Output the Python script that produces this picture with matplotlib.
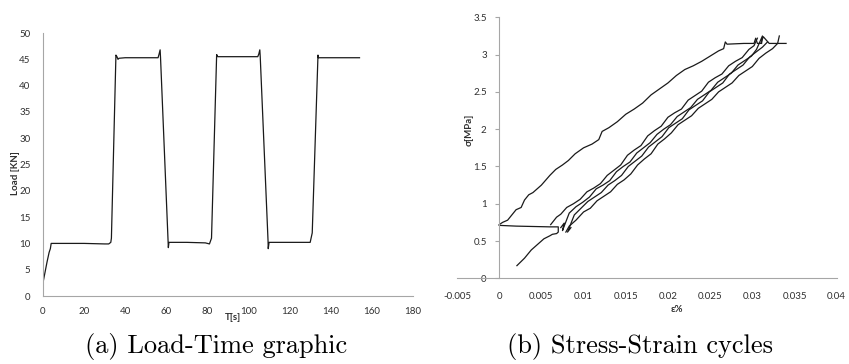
import matplotlib.pyplot as plt
from matplotlib.ticker import FixedLocator, FixedFormatter

# load-time record
time_s = [0, 1, 2, 3, 3.6, 4, 10, 20, 30, 32, 33, 33.3, 35.5, 36, 36.5, 37, 40, 50,
          56, 56.5, 57, 57.2, 61, 61.3, 62, 70, 79, 81, 82, 84.5, 85, 86, 95, 104.5,
          105, 105.5, 105.7, 109.5, 109.6, 110, 120, 130, 131, 133.8, 134, 135, 145, 154]
load_kn = [2.5, 4.5, 6.5, 8.3, 9, 10, 10, 10, 9.9, 9.9, 10.2, 11, 45.8, 45.5, 45, 45.2, 45.3, 45.3,
           45.3, 46, 46.8, 45.3, 9.2, 10.2, 10.2, 10.2, 10.1, 9.9, 11, 45.9, 45.5, 45.5, 45.5, 45.5,
           46, 46.8, 45.5, 10.5, 9, 10.2, 10.2, 10.2, 12, 45.8, 45.3, 45.3, 45.3, 45.3]

# stress-strain branches (strain in units of 1e-3)
first_load_e = [2.1, 3.0, 3.8, 4.5, 5.3, 6.0, 6.3, 6.8, 7.0, 7.0, 6.0, 4.0, 2.0, 0.0]
first_load_s = [0.17, 0.27, 0.38, 0.45, 0.53, 0.57, 0.59, 0.6, 0.62, 0.69, 0.69, 0.695, 0.7, 0.71]

upper_e = [0.0, 0.4, 1.0, 1.5, 2.0, 2.6, 3.0, 3.5, 4.0, 5.0, 6.0, 6.7, 7.5, 8.2, 9.0, 10.0, 11.0,
           11.8, 12.2, 13.0, 14.0, 15.0, 16.0, 17.0, 18.0, 19.0, 20.0, 21.0, 22.0, 23.0, 24.0,
           25.0, 26.0, 26.6, 26.8, 27.0, 29.0, 30.2, 30.4, 30.6, 31.0, 31.3, 32.0, 33.0, 34.0]
upper_s = [0.72, 0.75, 0.78, 0.85, 0.92, 0.95, 1.05, 1.12, 1.15, 1.25, 1.38, 1.46, 1.52, 1.58, 1.67,
           1.75, 1.8, 1.86, 1.97, 2.02, 2.1, 2.2, 2.27, 2.35, 2.46, 2.54, 2.62, 2.72, 2.8, 2.85, 2.91,
           2.98, 3.05, 3.08, 3.17, 3.14, 3.15, 3.15, 3.22, 3.15, 3.15, 3.24, 3.15, 3.15, 3.15]

band1_e = [6.1, 6.8, 7.3, 8.0, 8.8, 9.6, 10.4, 11.2, 12.0, 12.8, 13.6, 14.4, 15.2, 16.0, 16.8,
           17.6, 18.4, 19.2, 20.0, 20.8, 21.6, 22.4, 23.2, 24.0, 24.8, 25.6, 26.4, 27.2, 28.0,
           28.8, 29.6, 30.2, 30.6]
band1_s = [0.72, 0.82, 0.86, 0.95, 1.0, 1.06, 1.16, 1.21, 1.27, 1.38, 1.45, 1.52, 1.65, 1.72, 1.78,
           1.91, 1.98, 2.04, 2.16, 2.22, 2.27, 2.39, 2.45, 2.51, 2.63, 2.69, 2.74, 2.85, 2.91,
           2.96, 3.07, 3.12, 3.22]

band2_e = [7.3, 7.7, 7.5, 8.3, 9.1, 9.9, 10.7, 11.5, 12.3, 13.1, 13.9, 14.7, 15.5, 16.3, 17.1,
           17.9, 18.7, 19.5, 20.3, 21.1, 21.9, 22.7, 23.5, 24.3, 25.1, 25.9, 26.7, 27.5, 28.3,
           29.1, 29.9, 30.5, 31.2, 31.1]
band2_s = [0.68, 0.74, 0.64, 0.875, 0.96, 1.02, 1.09, 1.2, 1.25, 1.31, 1.43, 1.5, 1.56, 1.68, 1.75,
           1.82, 1.93, 2.0, 2.06, 2.17, 2.23, 2.29, 2.4, 2.46, 2.52, 2.63, 2.69, 2.75, 2.86,
           2.92, 2.98, 3.07, 3.25, 3.15]

band3_e = [8.5, 8.1, 8.9, 9.7, 10.5, 11.3, 12.1, 12.9, 13.7, 14.5, 15.3, 16.1, 16.9, 17.7, 18.5,
           19.3, 20.1, 20.9, 21.7, 22.5, 23.3, 24.1, 24.9, 25.7, 26.5, 27.3, 28.1, 28.9, 29.7,
           30.5, 31.2, 31.8]
band3_s = [0.68, 0.62, 0.85, 0.94, 1.03, 1.09, 1.15, 1.25, 1.31, 1.38, 1.5, 1.57, 1.64, 1.76, 1.83,
           1.9, 2.02, 2.08, 2.14, 2.26, 2.32, 2.38, 2.5, 2.56, 2.62, 2.74, 2.8, 2.86, 2.97,
           3.04, 3.1, 3.17]

band4_e = [7.9, 8.3, 9.1, 10.0, 10.8, 11.6, 12.4, 13.2, 14.0, 14.8, 15.6, 16.4, 17.2, 18.0, 18.8,
           19.6, 20.4, 21.2, 22.0, 22.8, 23.6, 24.4, 25.2, 26.0, 26.8, 27.6, 28.4, 29.2, 30.0,
           30.8, 31.6, 32.4, 33.0, 33.2]
band4_s = [0.62, 0.7, 0.78, 0.89, 0.94, 1.04, 1.1, 1.16, 1.26, 1.32, 1.4, 1.52, 1.6, 1.67, 1.8,
           1.87, 1.95, 2.06, 2.12, 2.18, 2.28, 2.34, 2.4, 2.5, 2.56, 2.62, 2.72, 2.78, 2.84,
           2.95, 3.02, 3.08, 3.15, 3.25]

stress_branches = [(first_load_e, first_load_s), (upper_e, upper_s), (band1_e, band1_s),
                   (band2_e, band2_s), (band3_e, band3_s), (band4_e, band4_s)]

load_ticks = [0, 5, 10, 15, 20, 25, 30, 35, 40, 45, 50]
time_ticks = [0, 20, 40, 60, 80, 100, 120, 140, 160, 180]
stress_ticks = [0, 0.5, 1, 1.5, 2, 2.5, 3, 3.5]
stress_labels = ["0", "0.5", "1", "1.5", "2", "2.5", "3", "3.5"]
strain_ticks = [-0.005, 0, 0.005, 0.01, 0.015, 0.02, 0.025, 0.03, 0.035, 0.04]
strain_labels = ["-0.005", "0", "0.005", "0.01", "0.015", "0.02", "0.025", "0.03", "0.035", "0.04"]

tick_font = "Lato"
axis_grey = "#a6a6a6"
line_col = "#1a1a1a"
label_col = "#303030"

fig = plt.figure(figsize=(8.49, 3.64), dpi=100)

# ---- left: load vs time
ax1 = fig.add_axes([0.0506, 0.1868, 0.4358, 0.7225])
ax1.plot(time_s, load_kn, color=line_col, lw=0.9)
ax1.set_xlim(0, 180)
ax1.set_ylim(0, 50)
ax1.set_xticks(time_ticks)
ax1.set_yticks(load_ticks)
for s in ("top", "right"):
    ax1.spines[s].set_visible(False)
for s in ("left", "bottom"):
    ax1.spines[s].set_color(axis_grey)
    ax1.spines[s].set_linewidth(0.8)
ax1.tick_params(axis="both", length=0, labelsize=7, labelcolor=label_col)
ax1.tick_params(axis="y", pad=9)
ax1.tick_params(axis="x", pad=8)
for lab in ax1.get_xticklabels() + ax1.get_yticklabels():
    lab.set_fontfamily(tick_font)
fig.text(15 / 849, 1 - 173 / 364, "Load [KN]", rotation=90, ha="center", va="center",
         fontsize=7, fontweight="bold", family=tick_font, color=label_col)
fig.text(233 / 849, 1 - 318 / 364, "T[s]", ha="center", va="center",
         fontsize=7, fontweight="bold", family=tick_font, color=label_col)

# ---- right: stress vs strain
ax2 = fig.add_axes([0.5383, 0.2354, 0.4472, 0.717])
for e_vals, s_vals in stress_branches:
    ax2.plot([v * 1e-3 for v in e_vals], s_vals, color=line_col, lw=0.9)
ax2.set_xlim(-0.005, 0.04)
ax2.set_ylim(0, 3.5)
ax2.xaxis.set_major_locator(FixedLocator(strain_ticks))
ax2.xaxis.set_major_formatter(FixedFormatter(strain_labels))
ax2.yaxis.set_major_locator(FixedLocator(stress_ticks))
ax2.yaxis.set_major_formatter(FixedFormatter(stress_labels))
ax2.spines["left"].set_position(("data", 0))
ax2.spines["bottom"].set_position(("data", 0))
for s in ("top", "right"):
    ax2.spines[s].set_visible(False)
for s in ("left", "bottom"):
    ax2.spines[s].set_color(axis_grey)
    ax2.spines[s].set_linewidth(0.8)
ax2.tick_params(axis="x", length=0, pad=10, labelsize=7, labelcolor=label_col)
ax2.tick_params(axis="y", length=3, color=axis_grey, pad=6, labelsize=7, labelcolor=label_col)
for lab in ax2.get_xticklabels() + ax2.get_yticklabels():
    lab.set_fontfamily(tick_font)
fig.text(469 / 849, 1 - 130 / 364, "σ[MPa]", rotation=90, ha="center", va="center",
         fontsize=7, fontweight="bold", family=tick_font, color=label_col)
fig.text(677 / 849, 1 - 310 / 364, "ε%", ha="center", va="center",
         fontsize=7, fontweight="bold", family=[tick_font, "DejaVu Sans"], color=label_col)

# ---- captions
fig.text(216 / 849, 1 - 347 / 364, "(a) Load-Time graphic", ha="center", va="center",
         fontsize=19, family="cmr10")
fig.text(640 / 849, 1 - 347 / 364, "(b) Stress-Strain cycles", ha="center", va="center",
         fontsize=19, family="cmr10")

fig.savefig("out.png", dpi=100)
